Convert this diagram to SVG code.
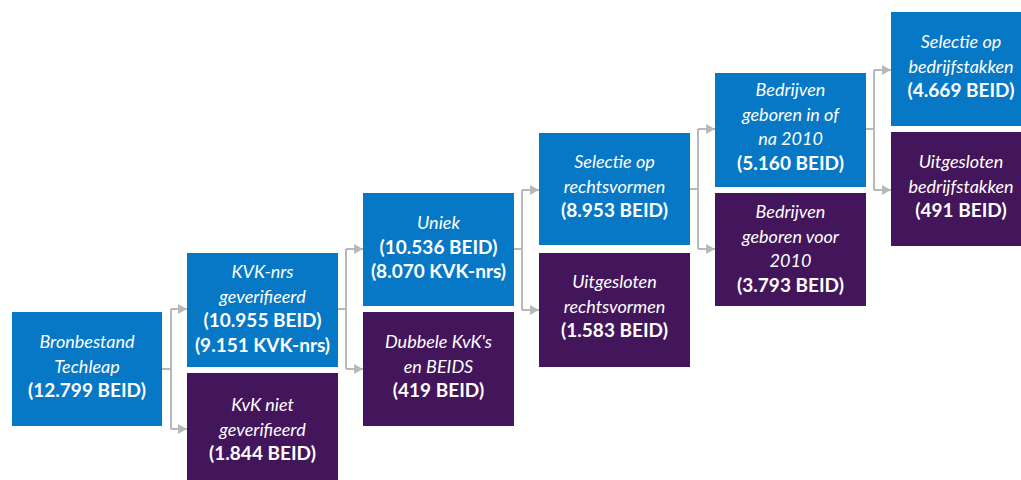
<svg xmlns="http://www.w3.org/2000/svg" width="1021" height="480" viewBox="0 0 1021 480">
<defs>
<marker id="arr" markerWidth="9" markerHeight="10" refX="9" refY="5" orient="auto" markerUnits="userSpaceOnUse">
<path d="M0,0 L9,5 L0,10 Z" fill="#b8b8b8"/>
</marker>
<style>
.blue{fill:#0678c6}
.purple{fill:#43155b}
text{font-family:Lato,"Open Sans","Liberation Sans",sans-serif;font-size:18px;fill:#ffffff;text-anchor:middle}
.i{font-style:italic}
.b{font-weight:bold;font-size:19px}
.c{fill:none;stroke:#b8b8b8;stroke-width:2}
</style>
</defs>
<rect width="1021" height="480" fill="#ffffff"/>
<g id="connectors">
<path class="c" d="M162,369 H171"/>
<path class="c" d="M171,309 V429"/>
<path class="c" d="M171,309 H187" marker-end="url(#arr)"/>
<path class="c" d="M171,429 H187" marker-end="url(#arr)"/>
<path class="c" d="M338,309 H346"/>
<path class="c" d="M346,249 V369"/>
<path class="c" d="M346,249 H363" marker-end="url(#arr)"/>
<path class="c" d="M346,369 H363" marker-end="url(#arr)"/>
<path class="c" d="M514,249 H522"/>
<path class="c" d="M522,190 V310"/>
<path class="c" d="M522,190 H539" marker-end="url(#arr)"/>
<path class="c" d="M522,310 H539" marker-end="url(#arr)"/>
<path class="c" d="M690,189 H698"/>
<path class="c" d="M698,129 V249"/>
<path class="c" d="M698,129 H715" marker-end="url(#arr)"/>
<path class="c" d="M698,249 H715" marker-end="url(#arr)"/>
<path class="c" d="M866,129 H874"/>
<path class="c" d="M874,70 V190"/>
<path class="c" d="M874,70 H891" marker-end="url(#arr)"/>
<path class="c" d="M874,190 H891" marker-end="url(#arr)"/>
</g>
<g id="bronbestand">
<rect class="blue" x="12" y="312" width="150" height="114"/>
<text class="i" x="87" y="348">Bronbestand</text>
<text class="i" x="87" y="372.5">Techleap</text>
<text class="b" x="87" y="397">(12.799 BEID)</text>
</g>
<g id="kvk-geverifieerd">
<rect class="blue" x="187" y="253" width="151" height="114"/>
<text class="i" x="262.5" y="278">KVK-nrs</text>
<text class="i" x="262.5" y="302.5">geverifieerd</text>
<text class="b" x="262.5" y="327">(10.955 BEID)</text>
<text class="b" x="262.5" y="351.5">(9.151 KVK-nrs)</text>
</g>
<g id="kvk-niet-geverifieerd">
<rect class="purple" x="187" y="373" width="151" height="110"/>
<text class="i" x="262.5" y="411">KvK niet</text>
<text class="i" x="262.5" y="435.5">geverifieerd</text>
<text class="b" x="262.5" y="460">(1.844 BEID)</text>
</g>
<g id="uniek">
<rect class="blue" x="363" y="193" width="151" height="113"/>
<text class="i" x="438.5" y="229">Uniek</text>
<text class="b" x="438.5" y="253.5">(10.536 BEID)</text>
<text class="b" x="438.5" y="278">(8.070 KVK-nrs)</text>
</g>
<g id="dubbele">
<rect class="purple" x="363" y="312" width="151" height="114"/>
<text class="i" x="438.5" y="348">Dubbele KvK's</text>
<text class="i" x="438.5" y="372.5">en BEIDS</text>
<text class="b" x="438.5" y="397">(419 BEID)</text>
</g>
<g id="selectie-rechtsvormen">
<rect class="blue" x="539" y="133" width="151" height="112"/>
<text class="i" x="614.5" y="168">Selectie op</text>
<text class="i" x="614.5" y="192.5">rechtsvormen</text>
<text class="b" x="614.5" y="217">(8.953 BEID)</text>
</g>
<g id="uitgesloten-rechtsvormen">
<rect class="purple" x="539" y="253" width="151" height="114"/>
<text class="i" x="614.5" y="288">Uitgesloten</text>
<text class="i" x="614.5" y="312.5">rechtsvormen</text>
<text class="b" x="614.5" y="337">(1.583 BEID)</text>
</g>
<g id="geboren-na-2010">
<rect class="blue" x="715" y="73" width="151" height="114"/>
<text class="i" x="790.5" y="96">Bedrijven</text>
<text class="i" x="790.5" y="120.5">geboren in of</text>
<text class="i" x="790.5" y="145">na 2010</text>
<text class="b" x="790.5" y="169.5">(5.160 BEID)</text>
</g>
<g id="geboren-voor-2010">
<rect class="purple" x="715" y="193" width="151" height="113"/>
<text class="i" x="790.5" y="218">Bedrijven</text>
<text class="i" x="790.5" y="242.5">geboren voor</text>
<text class="i" x="790.5" y="267">2010</text>
<text class="b" x="790.5" y="291.5">(3.793 BEID)</text>
</g>
<g id="selectie-bedrijfstakken">
<rect class="blue" x="891" y="12" width="151" height="114"/>
<text class="i" x="961" y="48">Selectie op</text>
<text class="i" x="961" y="72.5">bedrijfstakken</text>
<text class="b" x="961" y="97">(4.669 BEID)</text>
</g>
<g id="uitgesloten-bedrijfstakken">
<rect class="purple" x="891" y="132" width="151" height="114"/>
<text class="i" x="961" y="168">Uitgesloten</text>
<text class="i" x="961" y="192.5">bedrijfstakken</text>
<text class="b" x="961" y="217">(491 BEID)</text>
</g>
</svg>
